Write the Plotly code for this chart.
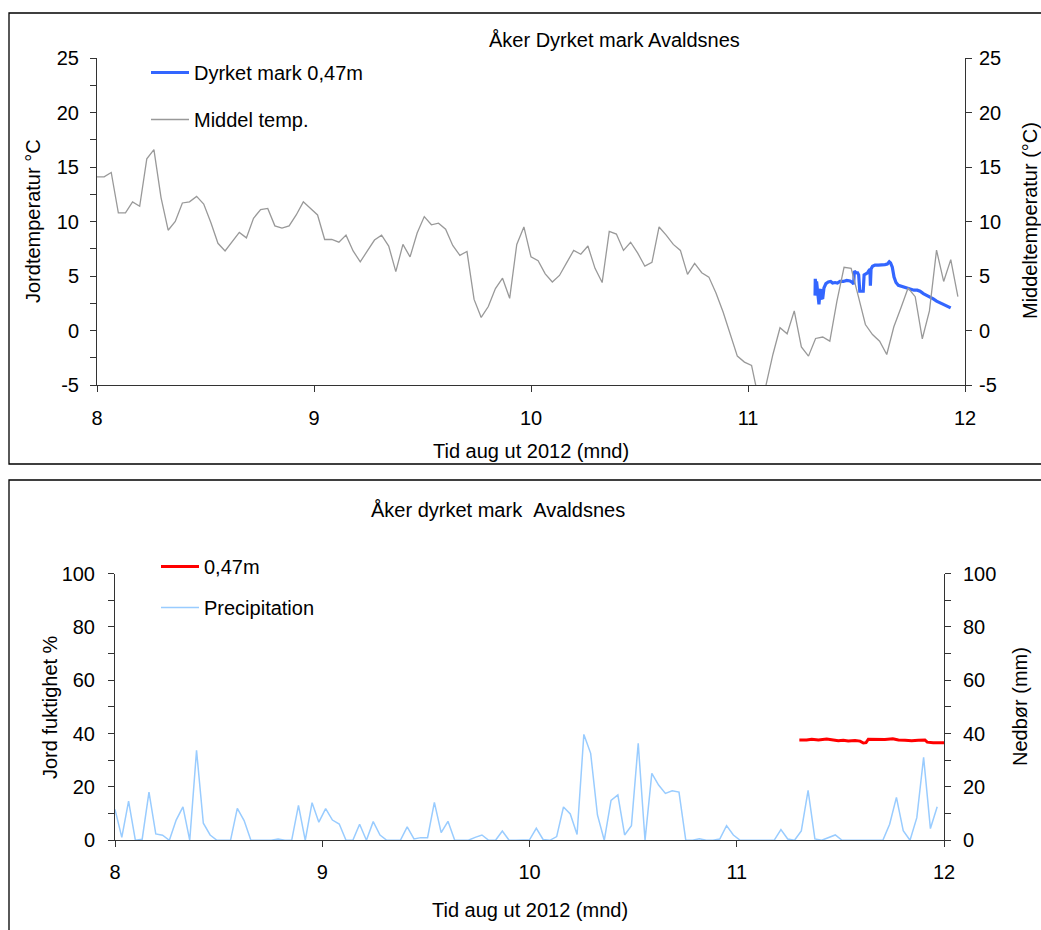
import numpy as np
import plotly.graph_objects as go

W, H = 1041, 930

# ---------------- data ----------------
# daily series 1 Aug - 30 Nov 2012 (122 days), x in months (8 = 1 Aug)
day_index = np.arange(122)
month_pos = 8 + day_index / 30.5

middel_temp = [14.1, 14.1, 14.5, 10.8, 10.8, 11.8, 11.4, 15.75, 16.6, 12.2,
               9.2, 10.0, 11.7, 11.8, 12.3, 11.6, 9.9, 8.0, 7.3, 8.1,
               9.0, 8.5, 10.3, 11.1, 11.2, 9.6, 9.4, 9.6, 10.6, 11.8,
               11.2, 10.6, 8.35, 8.35, 8.1, 8.75, 7.3, 6.3, 7.3, 8.3,
               8.75, 7.75, 5.4, 7.9, 6.75, 8.95, 10.45, 9.7, 9.85, 9.3,
               7.8, 6.9, 7.25, 2.85, 1.2, 2.2, 3.85, 4.8, 2.95, 7.9,
               9.5, 6.75, 6.4, 5.2, 4.45, 5.05, 6.2, 7.35, 7.0, 7.75,
               5.7, 4.4, 9.1, 8.85, 7.35, 8.1, 7.1, 5.9, 6.25, 9.5,
               8.75, 7.9, 7.35, 5.15, 6.15, 5.3, 4.9, 3.45, 1.7, -0.3,
               -2.35, -2.9, -3.2, -6.3, -5.1, -2.2, 0.25, -0.3, 1.8, -1.5,
               -2.35, -0.73, -0.6, -0.98, 2.7, 5.8, 5.7, 3.15, 0.55, -0.37,
               -0.98, -2.2, 0.34, 2.08, 3.9, 3.1, -0.76, 1.8, 7.37, 4.5,
               6.5, 3.1]

precipitation = [11.6, 1.1, 14.7, 0, 0.4, 18.1, 2.4, 1.9, 0, 7.6,
                 12.5, 0, 33.7, 6.4, 2.0, 0, 0, 0, 12.0, 7.4,
                 0, 0, 0, 0, 0.5, 0, 0, 13.1, 0, 14.1,
                 6.8, 11.9, 7.6, 6.1, 0, 0, 6.0, 0, 7.0, 2.0,
                 0, 0, 0, 5.0, 0.5, 1.0, 1.0, 14.2, 2.9, 7.1,
                 0, 0, 0, 1.1, 2.0, 0, 0, 3.5, 0, 0,
                 0, 0.2, 4.5, 0.3, 0, 1.4, 12.5, 9.9, 2.2, 39.7,
                 32.6, 9.5, 0, 15.0, 17.0, 2.0, 5.5, 36.4, 0, 25.1,
                 20.7, 17.6, 18.6, 18.1, 0, 0, 0.6, 0, 0, 0.5,
                 5.5, 2.0, 0, 0, 0, 0, 0, 0, 4.0, 0.5,
                 0, 3.5, 18.7, 0.5, 0, 1.1, 2.0, 0, 0, 0,
                 0, 0, 0, 0, 6.0, 16.1, 3.6, 0, 8.5, 31.1,
                 4.4, 12.6]

# soil temperature at 0.47 m (logger), x in months
soil_x = [11.309, 11.310, 11.313, 11.316, 11.321, 11.327, 11.332, 11.335, 11.339, 11.344,
          11.350, 11.359, 11.370, 11.381, 11.390, 11.401, 11.412, 11.424, 11.439, 11.455,
          11.470, 11.482, 11.487, 11.490, 11.498, 11.505, 11.510, 11.515, 11.525, 11.531,
          11.535, 11.544, 11.551, 11.559, 11.562, 11.564, 11.567, 11.574, 11.585, 11.601,
          11.616, 11.631, 11.642, 11.651, 11.657, 11.665, 11.673, 11.682, 11.693, 11.708,
          11.724, 11.739, 11.754, 11.765, 11.780, 11.793, 11.808, 11.823, 11.839, 11.854,
          11.869, 11.885, 11.900, 11.916, 11.934]
soil_temp = [3.2, 4.74, 3.8, 4.5, 3.3, 2.4, 3.6, 3.8, 3.0, 2.9,
             3.9, 4.3, 4.45, 4.5, 4.35, 4.4, 4.35, 4.5, 4.5, 4.6,
             4.55, 4.4, 4.25, 5.45, 5.3, 5.3, 5.1, 3.6, 3.6, 3.6,
             5.1, 5.25, 5.3, 5.55, 5.6, 4.1, 5.65, 5.9, 6.0, 6.0,
             6.0, 6.05, 6.1, 6.3, 6.2, 5.8, 4.9, 4.4, 4.15, 4.05,
             4.0, 3.85, 3.75, 3.7, 3.7, 3.6, 3.38, 3.25, 3.1, 2.9,
             2.7, 2.55, 2.4, 2.25, 2.08]

# soil moisture at 0.47 m (logger)
moist_x = [11.302, 11.337, 11.362, 11.394, 11.434, 11.466, 11.490, 11.514, 11.538, 11.571,
           11.595, 11.611, 11.624, 11.635, 11.675, 11.715, 11.753, 11.780, 11.812, 11.844,
           11.876, 11.908, 11.919, 11.948, 12.0]
moisture = [37.6, 37.6, 37.9, 37.6, 38.0, 37.7, 37.3, 37.5, 37.2, 37.4,
            37.2, 36.5, 36.6, 37.9, 37.9, 37.8, 38.1, 37.6, 37.5, 37.3,
            37.5, 37.6, 36.8, 36.6, 36.6]

month_ticks = [8, 9, 10, 11, 12]
month_labels = ["8", "9", "10", "11", "12"]
temp_ticks = [-5, 0, 5, 10, 15, 20, 25]
temp_labels = ["-5", "0", "5", "10", "15", "20", "25"]
pct_ticks = [0, 20, 40, 60, 80, 100]
pct_labels = ["0", "20", "40", "60", "80", "100"]

# ---------------- figure ----------------
FONT = "Liberation Sans, Arial, sans-serif"
AX = "#333333"

def px_x(p):
    return p / W

def px_y(p):
    return 1 - p / H

fig = go.Figure()

# top chart
fig.add_trace(go.Scatter(x=month_pos, y=middel_temp, mode="lines", name="Middel temp.",
                         line=dict(color="#999999", width=1.3),
                         xaxis="x", yaxis="y2", legend="legend", legendgroup="g2", legendrank=2))
fig.add_trace(go.Scatter(x=soil_x, y=soil_temp, mode="lines", name="Dyrket mark 0,47m",
                         line=dict(color="#3366FF", width=3.2),
                         xaxis="x", yaxis="y", legend="legend", legendgroup="g1", legendrank=1))

# bottom chart
fig.add_trace(go.Scatter(x=month_pos, y=precipitation, mode="lines", name="Precipitation",
                         line=dict(color="#99CCFF", width=1.5),
                         xaxis="x2", yaxis="y4", legend="legend2", legendgroup="g4", legendrank=2))
fig.add_trace(go.Scatter(x=moist_x, y=moisture, mode="lines", name="0,47m",
                         line=dict(color="#FF0000", width=3),
                         xaxis="x2", yaxis="y3", legend="legend2", legendgroup="g3", legendrank=1))

tickfont = dict(family=FONT, size=20, color="black")
common = dict(showgrid=False, zeroline=False, showline=True, linecolor=AX, linewidth=1,
              ticks="outside", ticklen=6, tickcolor=AX, tickwidth=1, tickfont=tickfont,
              automargin=False)

top_dom_y = [px_y(385), px_y(58)]
bot_dom_y = [px_y(840.3), px_y(573.6)]

fig.update_layout(
    width=W, height=H, autosize=False,
    margin=dict(l=0, r=0, t=0, b=0, pad=0, autoexpand=False),
    paper_bgcolor="white", plot_bgcolor="white",
    font=dict(family=FONT, size=20, color="black"),
    xaxis=dict(domain=[px_x(97), px_x(965)], range=[8, 12], anchor="y",
               tickvals=month_ticks, ticktext=month_labels, ticklabelstandoff=9, **common),
    yaxis=dict(domain=top_dom_y, range=[-5, 25], anchor="x",
               tickvals=temp_ticks, ticktext=temp_labels, ticklabelstandoff=7,
               minor=dict(dtick=2.5, ticks="outside", ticklen=6, tickcolor=AX), **common),
    yaxis2=dict(overlaying="y", side="right", range=[-5, 25], anchor="x",
                tickvals=temp_ticks, ticktext=temp_labels, ticklabelstandoff=3, **common),
    xaxis2=dict(domain=[px_x(115), px_x(944)], range=[8, 12], anchor="y3",
                tickvals=month_ticks, ticktext=month_labels, ticklabelstandoff=8, **common),
    yaxis3=dict(domain=bot_dom_y, range=[0, 100], anchor="x2",
                tickvals=pct_ticks, ticktext=pct_labels, ticklabelstandoff=9,
                minor=dict(dtick=10, ticks="outside", ticklen=6, tickcolor=AX), **common),
    yaxis4=dict(overlaying="y3", side="right", range=[0, 100], anchor="x2",
                tickvals=pct_ticks, ticktext=pct_labels, ticklabelstandoff=8,
                minor=dict(dtick=10, ticks="outside", ticklen=6, tickcolor=AX), **common),
    legend=dict(x=px_x(146), y=px_y(53), xanchor="left", yanchor="top",
                bgcolor="rgba(0,0,0,0)", borderwidth=0, traceorder="grouped", itemwidth=38,
                tracegroupgap=18, font=dict(family=FONT, size=20, color="black")),
    legend2=dict(x=px_x(156), y=px_y(547), xanchor="left", yanchor="top",
                 bgcolor="rgba(0,0,0,0)", borderwidth=0, traceorder="grouped", itemwidth=38,
                 tracegroupgap=12, font=dict(family=FONT, size=20, color="black")),
    showlegend=True,
)

# panel frames
fig.add_shape(type="rect", xref="paper", yref="paper",
              x0=px_x(9), x1=1.02, y0=px_y(464), y1=px_y(13),
              line=dict(color="black", width=1.3), fillcolor="rgba(0,0,0,0)", layer="below")
fig.add_shape(type="rect", xref="paper", yref="paper",
              x0=px_x(9), x1=1.02, y0=-0.02, y1=px_y(480),
              line=dict(color="black", width=1.3), fillcolor="rgba(0,0,0,0)", layer="below")

def ann(text, x, y, angle=0, size=20):
    fig.add_annotation(text=text, x=px_x(x), y=px_y(y), xref="paper", yref="paper",
                       xanchor="center", yanchor="middle", showarrow=False, textangle=angle,
                       font=dict(family=FONT, size=size, color="black"))

ann("Åker Dyrket mark Avaldsnes", 614, 40)
ann("Jordtemperatur °C", 33, 221, -90)
ann("Middeltemperatur (°C)", 1030, 221, -90)
ann("Tid aug ut 2012 (mnd)", 531, 451)

ann("Åker dyrket mark \u00a0Avaldsnes", 498, 510)
ann("Jord fuktighet %", 50, 707, -90)
ann("Nedbør (mm)", 1020, 707, -90)
ann("Tid aug ut 2012 (mnd)", 530, 910)

# remove the default page margin synchronously so the figure sits at (0, 0)
page_fix = ("}); document.body.style.margin='0'; document.body.style.overflow='hidden'; "
            "document.documentElement.style.overflow='hidden'; (function(){")

fig.write_html("out.html", config={"displayModeBar": False}, post_script=page_fix)
